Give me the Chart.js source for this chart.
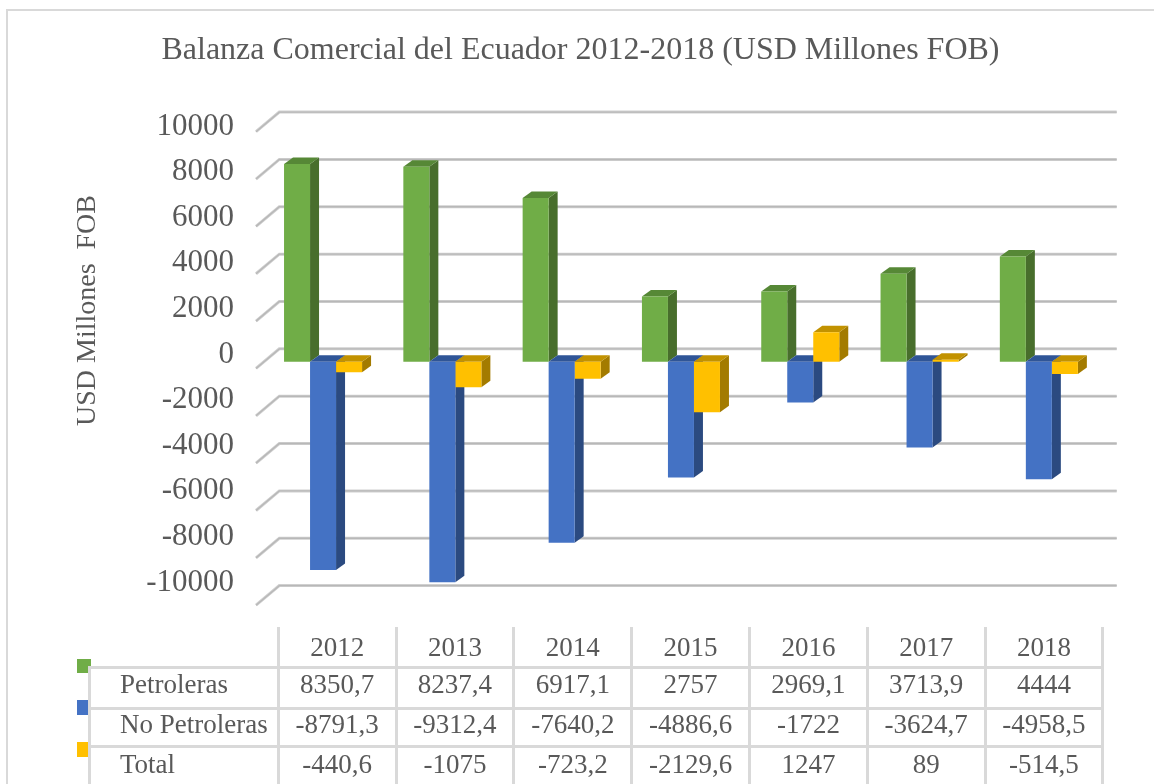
<!DOCTYPE html>
<html><head><meta charset="utf-8">
<script src="https://cdn.jsdelivr.net/npm/chart.js@4.4.1/dist/chart.umd.min.js"></script>
<style>
html,body{margin:0;padding:0;background:#fff;}
#wrap{position:relative;width:1154px;height:784px;overflow:hidden;font-family:"Liberation Serif","Times New Roman",serif;color:#595959;background:#fff;}
#c{position:absolute;left:0;top:0;}
.ln{position:absolute;background:#d9d9d9;}
.tx{position:absolute;font-size:27px;line-height:27px;white-space:nowrap;}
.sq{position:absolute;width:14px;}
</style></head><body>
<div id="wrap"><canvas id="c" width="1154" height="784"></canvas></div>
<script>
// ---- data ----
const years = ['2012','2013','2014','2015','2016','2017','2018'];
const petroleras = [8350.7, 8237.4, 6917.1, 2757, 2969.1, 3713.9, 4444];
const noPetroleras = [-8791.3, -9312.4, -7640.2, -4886.6, -1722, -3624.7, -4958.5];
const total = [-440.6, -1075, -723.2, -2129.6, 1247, 89, -514.5];
const seriesNames = ['Petroleras', 'No Petroleras', 'Total'];
const yTicks = [10000, 8000, 6000, 4000, 2000, 0, -2000, -4000, -6000, -8000, -10000];
const chartTitle = 'Balanza Comercial del Ecuador 2012-2018 (USD Millones FOB)';
const yAxisTitle = 'USD Millones  FOB';

// ---- styles ----
const frontCol = ['#70ad47', '#4472c4', '#ffc000'];
const sideCol = ['#486e2c', '#2b4a80', '#a37b00'];
const topCol = ['#568836', '#2f5597', '#c29200'];
const textCol = '#595959';
const FONT = '"Liberation Serif","Times New Roman",serif';

const seriesData = [petroleras, noPetroleras, total];

const threeD = {
  id: 'threeD',
  beforeDatasetsDraw(chart) {
    const ctx = chart.ctx, ys = chart.scales.y, ca = chart.chartArea;
    // back-wall gridlines with floor slant
    ctx.save();
    yTicks.forEach(v => {
      const p = ys.getPixelForValue(v);
      const f = p + 6.7, b = p - 12.9;
      ctx.beginPath();
      ctx.moveTo(ca.left - 7.4, f);
      ctx.lineTo(ca.left + 15.9, b);
      ctx.lineTo(ca.right + 18.2, b);
      ctx.strokeStyle = '#d0d0d0'; ctx.lineWidth = 3; ctx.stroke();
      ctx.strokeStyle = '#b8b8b8'; ctx.lineWidth = 1.4; ctx.stroke();
    });
    // side and top faces
    const dx = 9, dy = -6.5;
    years.forEach((_, i) => {
      chart.data.datasets.forEach((ds, d) => {
        const el = chart.getDatasetMeta(d).data[i];
        const {x, y, base, width} = el.getProps(['x', 'y', 'base', 'width'], true);
        const l = x - width / 2, r = x + width / 2;
        const t = Math.min(y, base), btm = Math.max(y, base);
        ctx.fillStyle = sideCol[d];
        ctx.beginPath();
        ctx.moveTo(r, t); ctx.lineTo(r + dx, t + dy); ctx.lineTo(r + dx, btm + dy); ctx.lineTo(r, btm);
        ctx.closePath(); ctx.fill();
        ctx.fillStyle = topCol[d];
        ctx.beginPath();
        ctx.moveTo(l, t); ctx.lineTo(l + dx, t + dy); ctx.lineTo(r + dx, t + dy); ctx.lineTo(r, t);
        ctx.closePath(); ctx.fill();
      });
    });
    ctx.restore();
  },
  afterDraw(chart) {
    const ctx = chart.ctx, ys = chart.scales.y;
    ctx.save();
    ctx.fillStyle = textCol;
    // title
    ctx.font = '32px ' + FONT;
    ctx.textAlign = 'center'; ctx.textBaseline = 'alphabetic';
    ctx.fillText(chartTitle, 580.5, 59);
    // tick labels
    const z = ys.getPixelForValue(0);
    ctx.font = '31px ' + FONT;
    ctx.textAlign = 'right'; ctx.textBaseline = 'middle';
    yTicks.forEach(v => {
      const p = ys.getPixelForValue(v);
      ctx.fillText(String(v), 234, 354.5 + (p - z) * 0.963);
    });
    // axis title
    ctx.font = '28px ' + FONT;
    ctx.translate(95, 310.5);
    ctx.rotate(-Math.PI / 2);
    ctx.textAlign = 'center'; ctx.textBaseline = 'alphabetic';
    ctx.fillText(yAxisTitle, 0, 0);
    ctx.restore();
  }
};

new Chart(document.getElementById('c'), {
  type: 'bar',
  data: {
    labels: years,
    datasets: seriesNames.map((n, d) => ({
      label: n, data: seriesData[d], backgroundColor: frontCol[d], borderWidth: 0,
      categoryPercentage: 0.654, barPercentage: 1
    }))
  },
  options: {
    responsive: false, animation: false,
    layout: { padding: { left: 263.4, right: 55.5, top: 125, bottom: 185.5 } },
    plugins: { legend: { display: false }, tooltip: { enabled: false }, title: { display: false } },
    scales: {
      x: { display: false },
      y: { display: false, min: -10000, max: 10000, ticks: { stepSize: 2000 } }
    }
  },
  plugins: [threeD]
});

// ---- frame + data table (HTML) ----
const wrap = document.getElementById('wrap');
function add(cls, css, text) {
  const e = document.createElement('div');
  e.className = cls; Object.assign(e.style, css);
  if (text !== undefined) e.textContent = text;
  wrap.appendChild(e); return e;
}
const fmt = v => String(v).replace('.', ',');
add('ln', {left: '6px', top: '9px', width: '2px', height: '775px'});
add('ln', {left: '6px', top: '9px', width: '1148px', height: '2px'});
// legend keys
const keyTops = [659, 700, 742], keyH = [14, 15, 15];
frontCol.forEach((c, d) => add('sq', {left: '77px', top: keyTops[d] + 'px', height: keyH[d] + 'px', background: c}));
// table lines
const firstRight = 278.3, colW = 117.8, tblLeft = 88;
for (let k = 0; k <= years.length; k++) {
  add('ln', {left: (firstRight + k * colW - 1.5) + 'px', top: '627px', width: '3px', height: '160px'});
}
add('ln', {left: tblLeft + 'px', top: '666px', width: '3px', height: '120px'});
[667.7, 708, 746.7].forEach(y => add('ln', {left: tblLeft + 'px', top: (y - 1.5) + 'px', width: (firstRight + years.length * colW + 1.5 - tblLeft) + 'px', height: '3px'}));
// table text
const asc = 22.6;
years.forEach((yr, k) => add('tx', {left: (firstRight + k * colW) + 'px', width: colW + 'px', textAlign: 'center', top: (657 - asc) + 'px'}, yr));
const rowBase = [694, 734, 774];
seriesNames.forEach((n, d) => {
  add('tx', {left: '120px', top: (rowBase[d] - asc) + 'px'}, n);
  seriesData[d].forEach((v, k) => add('tx', {left: (firstRight + k * colW) + 'px', width: colW + 'px', textAlign: 'center', top: (rowBase[d] - asc) + 'px'}, fmt(v)));
});
</script>
</body></html>
